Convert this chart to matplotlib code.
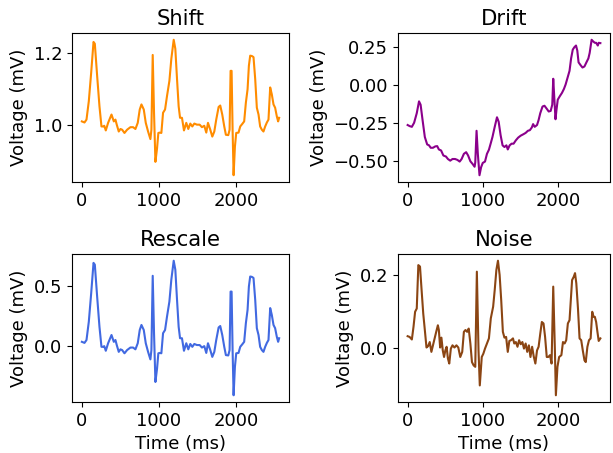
import numpy as np
import matplotlib
matplotlib.use("Agg")
import matplotlib.pyplot as plt

# base ECG beat trace (mV, offset removed)
ecg_t = [0, 34, 60, 90, 121, 151, 168, 198, 228, 254, 276, 290, 310, 340, 384,
         414, 435, 452, 478, 500, 522, 552, 586, 629, 664, 694, 724, 750, 772, 802,
         828, 858, 888, 901, 918, 935, 953, 974, 991, 1009, 1030, 1052, 1078, 1103, 1134,
         1159, 1190, 1211, 1233, 1254, 1272, 1297, 1323, 1353, 1379, 1405, 1431, 1457, 1491, 1526,
         1556, 1586, 1612, 1634, 1664, 1690, 1716, 1741, 1772, 1793, 1819, 1845, 1866, 1897, 1914,
         1927, 1940, 1953, 1966, 1983, 2000, 2030, 2052, 2082, 2103, 2125, 2147, 2164, 2181, 2203,
         2224, 2246, 2267, 2289, 2310, 2332, 2353, 2375, 2397, 2418, 2440, 2461, 2483, 2504, 2526,
         2543, 2556]
ecg_v = [0.011, 0.008, 0.016, 0.067, 0.147, 0.231, 0.226, 0.137, 0.053, -0.003,
         -0.003, -0.001, -0.014, 0.007, 0.030, 0.011, 0.016, 0.002, -0.017, -0.010,
         -0.012, -0.021, -0.012, -0.005, -0.005, -0.010, 0.007, 0.044, 0.058, 0.044,
         0.007, -0.017, -0.038, -0.012, 0.195, 0.035, -0.101, -0.064, -0.021, -0.020,
         -0.021, 0.035, 0.044, 0.081, 0.123, 0.184, 0.237, 0.212, 0.128, 0.053,
         0.021, 0.021, -0.014, 0.007, -0.010, 0.005, -0.003, 0.005, 0.002, 0.002,
         -0.005, -0.001, -0.020, 0.007, -0.012, -0.031, -0.017, 0.016, 0.051, 0.055,
         0.030, -0.003, -0.026, -0.027, -0.012, 0.151, 0.151, -0.012, -0.138, -0.059,
         -0.021, -0.020, -0.003, 0.005, 0.011, 0.063, 0.100, 0.165, 0.193, 0.192,
         0.189, 0.128, 0.049, 0.030, -0.003, -0.012, -0.017, -0.003, 0.008, 0.016,
         0.105, 0.086, 0.058, 0.049, 0.025, 0.011, 0.021]

shift_offset = 1.0
rescale_factor = 3.0

drift_t = [0, 26, 56, 86, 121, 151, 172, 198, 228, 259, 284, 306, 336, 366, 392,
           414, 444, 474, 509, 534, 565, 595, 629, 660, 690, 716, 746, 776, 802, 832,
           862, 888, 897, 914, 931, 953, 974, 996, 1026, 1052, 1078, 1103, 1125, 1155, 1185,
           1207, 1233, 1259, 1284, 1310, 1328, 1353, 1379, 1405, 1435, 1466, 1500, 1534, 1565, 1595,
           1621, 1647, 1664, 1685, 1716, 1737, 1759, 1789, 1815, 1845, 1871, 1897, 1918, 1931, 1944,
           1961, 1974, 1991, 2017, 2047, 2073, 2095, 2121, 2147, 2168, 2190, 2211, 2233, 2250, 2267,
           2293, 2319, 2345, 2371, 2397, 2414, 2440, 2461, 2483, 2500, 2522, 2534, 2556]
drift_v = [-0.263, -0.270, -0.275, -0.248, -0.185, -0.107, -0.129, -0.230, -0.342, -0.391,
           -0.397, -0.413, -0.413, -0.404, -0.402, -0.424, -0.431, -0.464, -0.471, -0.487,
           -0.498, -0.487, -0.487, -0.493, -0.504, -0.487, -0.453, -0.442, -0.464, -0.502,
           -0.520, -0.538, -0.509, -0.301, -0.453, -0.594, -0.542, -0.513, -0.504, -0.453,
           -0.426, -0.382, -0.342, -0.275, -0.212, -0.241, -0.330, -0.397, -0.408, -0.397,
           -0.424, -0.397, -0.386, -0.386, -0.364, -0.346, -0.333, -0.324, -0.315, -0.301,
           -0.297, -0.279, -0.257, -0.275, -0.263, -0.230, -0.185, -0.141, -0.136, -0.156,
           -0.174, -0.170, -0.129, 0.042, -0.074, -0.225, -0.163, -0.096, -0.074, -0.051,
           -0.025, 0.004, 0.049, 0.094, 0.176, 0.234, 0.250, 0.261, 0.228, 0.150,
           0.132, 0.116, 0.123, 0.150, 0.176, 0.212, 0.299, 0.288, 0.279, 0.279,
           0.261, 0.279, 0.277]

noise_t = [0, 26, 56, 78, 99, 121, 142, 164, 185, 207, 228, 250, 272, 293, 315,
           336, 358, 379, 401, 414, 431, 448, 466, 483, 500, 517, 534, 552, 573, 595,
           621, 647, 672, 698, 724, 746, 767, 789, 810, 832, 853, 875, 897, 918, 940,
           957, 983, 1004, 1026, 1052, 1078, 1103, 1134, 1155, 1177, 1198, 1220, 1241, 1263, 1284,
           1306, 1328, 1349, 1371, 1397, 1414, 1435, 1457, 1478, 1500, 1522, 1543, 1565, 1586, 1608,
           1629, 1651, 1672, 1694, 1716, 1737, 1759, 1780, 1802, 1823, 1845, 1866, 1888, 1909, 1931,
           1953, 1966, 1987, 2009, 2039, 2060, 2082, 2103, 2125, 2147, 2164, 2181, 2203, 2220, 2237,
           2259, 2280, 2302, 2323, 2345, 2362, 2384, 2405, 2427, 2448, 2466, 2483, 2500, 2517, 2534,
           2556]
noise_v = [0.033, 0.031, 0.024, 0.059, 0.100, 0.109, 0.228, 0.224, 0.160, 0.095,
           0.050, 0.002, 0.006, 0.017, -0.010, 0.008, 0.027, 0.045, 0.063, 0.050,
           0.002, 0.029, -0.006, -0.024, -0.006, 0.004, -0.028, -0.042, -0.001, 0.008,
           0.002, 0.008, 0.002, -0.024, -0.010, 0.045, 0.050, 0.045, 0.054, 0.013,
           -0.038, -0.047, -0.051, 0.210, -0.006, -0.102, -0.024, -0.015, -0.001, 0.013,
           0.027, 0.082, 0.114, 0.160, 0.215, 0.240, 0.201, 0.132, 0.045, 0.029,
           0.031, -0.010, 0.020, 0.022, 0.027, 0.013, 0.017, 0.004, 0.022, 0.011,
           0.017, -0.001, 0.013, -0.010, 0.008, -0.024, 0.004, -0.022, -0.042, -0.006,
           0.004, 0.040, 0.072, 0.068, 0.031, -0.024, -0.024, -0.019, -0.042, 0.169,
           -0.006, -0.129, -0.051, -0.024, -0.019, 0.017, 0.013, 0.022, 0.068, 0.077,
           0.132, 0.187, 0.196, 0.206, 0.178, 0.109, 0.027, 0.022, -0.006, -0.033,
           -0.038, 0.004, 0.022, 0.027, 0.100, 0.086, 0.086, 0.072, 0.045, 0.020,
           0.027]

ecg = np.array(ecg_v)
panels = [
    ("Shift", ecg_t, ecg + shift_offset, "darkorange", [1.0, 1.2]),
    ("Drift", drift_t, drift_v, "darkmagenta", [-0.5, -0.25, 0.0, 0.25]),
    ("Rescale", ecg_t, ecg * rescale_factor, "royalblue", [0.0, 0.5]),
    ("Noise", noise_t, noise_v, "saddlebrown", [0.0, 0.2]),
]

W, H = 613, 453
fig = plt.figure(figsize=(W / 100, H / 100), dpi=100)
# axes boxes in pixels: left, top, right, bottom
boxes = [(72, 33, 289, 182), (398, 33, 610, 182),
         (72, 254, 289, 402), (398, 254, 610, 402)]

for i, (title, t, v, color, yt) in enumerate(panels):
    l, tp, r, b = boxes[i]
    ax = fig.add_axes([l / W, 1 - b / H, (r - l) / W, (b - tp) / H])
    ax.plot(t, v, color=color, linewidth=1.5)
    ax.set_title(title, fontsize=15.2)
    ax.set_ylabel("Voltage (mV)", fontsize=13)
    ax.set_xticks([0, 1000, 2000])
    ax.set_yticks(yt)
    ax.tick_params(labelsize=13)
    if i >= 2:
        ax.set_xlabel("Time (ms)", fontsize=13)

fig.savefig("out.png", dpi=100)
